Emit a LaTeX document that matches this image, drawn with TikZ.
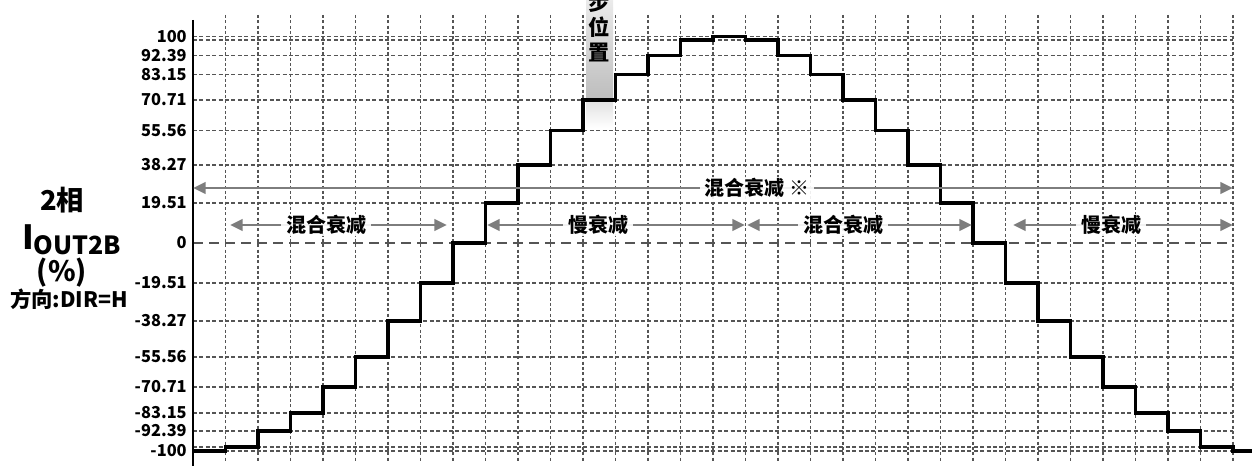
\documentclass[tikz,border=0pt]{standalone}
\usepackage{fontspec}
\setmainfont{Noto Sans CJK SC}
\usetikzlibrary{arrows.meta}
\definecolor{gridc}{RGB}{85,85,85}
\definecolor{arrc}{RGB}{125,125,125}
\tikzset{
  vgrid/.style={gridc, line width=1.1pt, dash pattern=on 2.2pt off 1.8pt},
  hgrid/.style={gridc, line width=1.1pt, dash pattern=on 3pt off 1.8pt},
  zerol/.style={gridc, line width=1.2pt, dash pattern=on 7.5pt off 4.5pt},
  stair/.style={black, line width=2.3pt, line join=miter},
  axisl/.style={black, line width=1.6pt},
  darr/.style={arrc, line width=2.2pt, {Triangle[length=9.5pt,width=8.5pt]}-{Triangle[length=9.5pt,width=8.5pt]}},
  alab/.style={fill=white, fill opacity=0.9, text opacity=1, text=black, font=\fontsize{15pt}{15pt}\selectfont\bfseries, inner xsep=3.75pt, inner ysep=1pt},
  ylab/.style={anchor=east, inner sep=0pt, font=\fontsize{12.3pt}{12.3pt}\selectfont\bfseries},
  lefttxt/.style={inner sep=0pt, font=\bfseries},
}
\begin{document}
\begin{tikzpicture}[x=0.75pt, y=-0.75pt]
\useasboundingbox (0,0) rectangle (1252,466);
\fill[white] (0,0) rectangle (1252,466);
% vertical grid
\foreach \k in {1,...,32} {
  \draw[vgrid] ({193+32.5*\k},15) -- ({193+32.5*\k},462);
}
% horizontal grid
\foreach \yy in {36.5,40,55.5,74.5,100,130.5,165,203,283,321,357,387,413,431,447,451} {
  \draw[hgrid] (193,\yy) -- (1233,\yy);
}
\draw[zerol] (193,243) -- (1233,243);
% step position column
\shade[top color=black!8, bottom color=black!26] (586,0) rectangle (613,100);
\shade[top color=black!12, bottom color=white] (586,100) rectangle (613,128);
\node[inner sep=0pt, align=center, font=\fontsize{16pt}{18.75pt}\selectfont\bfseries] (stp) at (599.5,27.5) {步\\位\\置};
% axis
\draw[axisl] (193,20) -- (193,466);
% y labels
\node[ylab] (l100) at (187,36.5) {100};
\node[ylab] (l92) at (187,55.5) {92.39};
\node[ylab] (l83) at (187,74.5) {83.15};
\node[ylab] (l70) at (187,100) {70.71};
\node[ylab] (l55) at (187,130.5) {55.56};
\node[ylab] (l38) at (187,165) {38.27};
\node[ylab] (l19) at (187,203) {19.51};
\node[ylab] (l0) at (187,243) {0};
\node[ylab] (m19) at (187,283) {-19.51};
\node[ylab] (m38) at (187,321) {-38.27};
\node[ylab] (m55) at (187,357) {-55.56};
\node[ylab] (m70) at (187,387) {-70.71};
\node[ylab] (m83) at (187,413) {-83.15};
\node[ylab] (m92) at (187,431) {-92.39};
\node[ylab] (m100) at (187,451) {-100};
% left title
\node[lefttxt, font=\fontsize{20.5pt}{20.5pt}\selectfont\bfseries] (t1) at (62,200) {2相};
\node[lefttxt, anchor=base west] (t2) at (22,250) {{\fontsize{25pt}{25pt}\selectfont\bfseries I}{\fontsize{18.75pt}{18.75pt}\selectfont\bfseries\raisebox{-3.75pt}{OUT2B}}};
\node[lefttxt, font=\fontsize{21pt}{21pt}\selectfont\bfseries] (t3) at (62,273) {(\%)};
\node[lefttxt, font=\fontsize{16pt}{16pt}\selectfont\bfseries] (t4) at (69,299) {方向:DIR=H};
% staircase
\draw[stair] (193,451) -| (225.5,447) -| (258,431) -| (290.5,413) -| (323,387) -| (355.5,357) -| (388,321) -| (420.5,283) -| (453,243) -| (485.5,203) -| (518,165) -| (550.5,130.5) -| (583,100) -| (615.5,74.5) -| (648,55.5) -| (680.5,40) -| (713,36.5) -| (745.5,40) -| (778,55.5) -| (810.5,74.5) -| (843,100) -| (875.5,130.5) -| (908,165) -| (940.5,203) -| (973,243) -| (1005.5,283) -| (1038,321) -| (1070.5,357) -| (1103,387) -| (1135.5,413) -| (1168,431) -| (1200.5,447) -| (1233,451) -- (1252,451);
% arrows
\coordinate (LA) at (193,188);
\coordinate (LB) at (1233,188);
\draw[darr] (LA) -- (LB);
\node[alab] (lab0) at (757,188) {混合衰减 ※};
\coordinate (A1) at (230,225);
\coordinate (B1) at (447,225);
\draw[darr] (A1) -- (B1);
\node[alab] (lab1) at (326,225) {混合衰减};
\coordinate (A2) at (487,225);
\coordinate (B2) at (745,225);
\draw[darr] (A2) -- (B2);
\node[alab] (lab2) at (598,225) {慢衰减};
\coordinate (A3) at (747,225);
\coordinate (B3) at (972,225);
\draw[darr] (A3) -- (B3);
\node[alab] (lab3) at (843,225) {混合衰减};
\coordinate (A4) at (1013,225);
\coordinate (B4) at (1233,225);
\draw[darr] (A4) -- (B4);
\node[alab] (lab4) at (1111,225) {慢衰减};
\end{tikzpicture}
\end{document}
